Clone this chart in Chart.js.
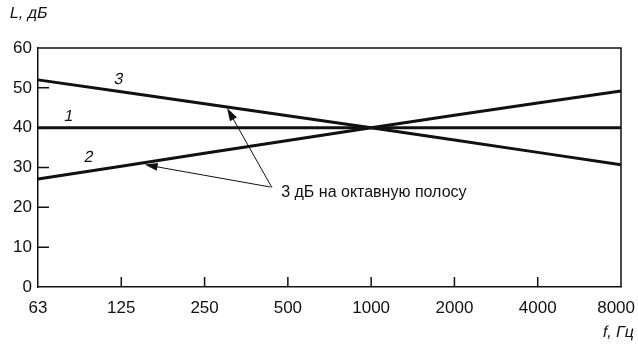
<!DOCTYPE html>
<html>
<head>
<meta charset="utf-8">
<script src="https://cdn.jsdelivr.net/npm/chart.js@4"></script>
<style>
  html, body { margin: 0; padding: 0; background: #fff; }
  #wrap { width: 638px; height: 348px; }
</style>
</head>
<body>
<div id="wrap"><canvas id="level-chart" width="638" height="348"></canvas></div>
<script>
// octave band centres and levels, dB
const freqLabels = ['63', '125', '250', '500', '1000', '2000', '4000', '8000'];
const yTicks = [0, 10, 20, 30, 40, 50, 60];
const line1 = [40, 40, 40, 40, 40, 40, 40, 40];
const line2 = [27.1, 30.3, 33.6, 36.8, 40, 43.1, 46.2, 49.2];
const line3 = [52, 49, 46, 43, 40, 36.9, 33.8, 30.7];
const noteText = '3 дБ на октавную полосу';

const ink = '#111';
const family = '"Liberation Sans", Arial, sans-serif';

// level on a series at a fractional band index
function level_at(series, idx) {
    const i = Math.min(Math.floor(idx), series.length - 2);
    const t = idx - i;
    return series[i] + (series[i + 1] - series[i]) * t;
}

// slanted upright glyphs, so Cyrillic keeps its roman shapes
function slanted_text(ctx, text, x, y, align) {
    ctx.save();
    ctx.translate(x, y);
    ctx.transform(1, 0, -0.2, 1, 0, 0);
    ctx.textAlign = align;
    ctx.fillText(text, 0, 0);
    ctx.restore();
}

function arrow(ctx, x0, y0, x1, y1) {
    const ang = Math.atan2(y1 - y0, x1 - x0);
    const len = 13, half = 4;
    ctx.beginPath();
    ctx.moveTo(x0, y0);
    ctx.lineTo(x1 - Math.cos(ang) * len * 0.8, y1 - Math.sin(ang) * len * 0.8);
    ctx.stroke();
    ctx.beginPath();
    ctx.moveTo(x1, y1);
    ctx.lineTo(x1 - Math.cos(ang) * len + Math.sin(ang) * half, y1 - Math.sin(ang) * len - Math.cos(ang) * half);
    ctx.lineTo(x1 - Math.cos(ang) * len - Math.sin(ang) * half, y1 - Math.sin(ang) * len + Math.cos(ang) * half);
    ctx.closePath();
    ctx.fill();
}

const decorations = {
    id: 'decorations',
    afterDraw(chart) {
        const ctx = chart.ctx;
        const xs = chart.scales.x, ys = chart.scales.y;
        const area = chart.chartArea;
        const px = i => xs.getPixelForValue(i);
        const py = v => ys.getPixelForValue(v);

        ctx.save();
        ctx.strokeStyle = ink;
        ctx.fillStyle = ink;

        // top and right sides of the frame
        ctx.lineWidth = 1.5;
        ctx.beginPath();
        ctx.moveTo(area.left, area.top);
        ctx.lineTo(area.right, area.top);
        ctx.lineTo(area.right, area.bottom);
        ctx.stroke();

        // inward tick marks
        ctx.beginPath();
        yTicks.slice(1, -1).forEach(v => {
            ctx.moveTo(area.left, py(v));
            ctx.lineTo(area.left + 11, py(v));
        });
        for (let i = 1; i < freqLabels.length - 1; i++) {
            ctx.moveTo(px(i), area.bottom);
            ctx.lineTo(px(i), area.bottom - 10);
        }
        ctx.stroke();

        // frequency labels, last one kept inside the canvas
        ctx.font = '17px ' + family;
        ctx.textBaseline = 'middle';
        ctx.textAlign = 'center';
        freqLabels.forEach((lab, i) => {
            const w = ctx.measureText(lab).width;
            const cx = Math.min(px(i), 635 - w / 2);
            ctx.fillText(lab, cx, area.bottom + 21);
        });

        // axis titles and curve numbers
        ctx.font = '16px ' + family;
        slanted_text(ctx, 'L, дБ', 10, 14, 'left');
        slanted_text(ctx, 'f, Гц', 634, 333, 'right');
        slanted_text(ctx, '3', px(0.97), py(52), 'center');
        slanted_text(ctx, '1', px(0.37), py(42.7), 'center');
        slanted_text(ctx, '2', px(0.61), py(32.4), 'center');

        // slope note with arrows
        ctx.textAlign = 'left';
        ctx.fillText(noteText, px(2.92), py(23.8));
        ctx.lineWidth = 1;
        arrow(ctx, px(2.81), py(24.9), px(2.27), py(level_at(line3, 2.27)) + 1);
        arrow(ctx, px(2.79), py(25.1), px(1.28), py(level_at(line2, 1.28)) + 2);

        ctx.restore();
    }
};

const ctx = document.getElementById('level-chart').getContext('2d');

const data = {
    labels: freqLabels,
    datasets: [line1, line2, line3].map(values => ({
        data: values,
        borderColor: ink,
        borderWidth: 3,
        pointRadius: 0,
        tension: 0,
        fill: false
    }))
};

const options = {
    responsive: false,
    animation: false,
    events: [],
    layout: { padding: { top: 48, right: 17, left: 0, bottom: 0 } },
    plugins: { legend: { display: false }, tooltip: { enabled: false } },
    scales: {
        x: {
            grid: { display: false, drawTicks: false },
            border: { display: true, color: ink, width: 1.5 },
            ticks: { display: false },
            afterFit(scale) {
                scale.height = 61;
                scale.paddingLeft = 0;
                scale.paddingRight = 0;
            }
        },
        y: {
            min: 0,
            max: 60,
            grid: { display: false, drawTicks: false },
            border: { display: true, color: ink, width: 1.5 },
            ticks: { color: ink, font: { family: family, size: 17 }, padding: 6 },
            afterBuildTicks(scale) {
                scale.ticks = yTicks.map(v => ({ value: v }));
            },
            afterFit(scale) {
                scale.width = 38;
                scale.paddingTop = 0;
                scale.paddingBottom = 0;
            }
        }
    }
};

const level_chart = new Chart(ctx, {
    type: 'line',
    data: data,
    options: options,
    plugins: [decorations]
});
</script>
</body>
</html>
